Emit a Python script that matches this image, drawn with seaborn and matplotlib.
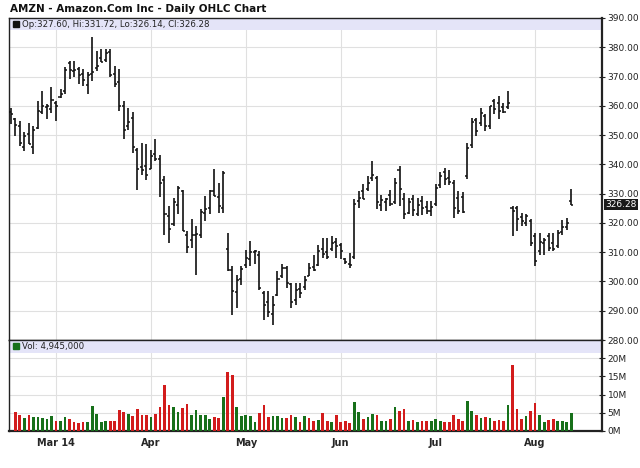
import numpy as np
import pandas as pd
import matplotlib
matplotlib.use('Agg')
import matplotlib.pyplot as plt
import seaborn as sns
from matplotlib.transforms import blended_transform_factory

# trading days shown on the chart (Feb 14 - Aug 13, 2014)
holidays = ['2014-02-17', '2014-04-18', '2014-05-26', '2014-07-04']
dates = pd.bdate_range('2014-02-14', '2014-08-13')
dates = dates[~dates.isin(pd.to_datetime(holidays))]

opens = [358.0, 355.5, 353.0, 346.0, 350.5, 346.0, 352.5, 358.0, 359.5, 359.0,
         361.0, 363.0, 365.0, 374.5, 372.0, 372.5, 371.0, 367.0, 371.0, 373.0,
         376.5, 375.5, 378.5, 371.0, 368.0, 360.0, 353.0, 356.0, 345.0, 339.0,
         339.5, 338.5, 343.5, 342.0, 334.5, 322.5, 319.5, 326.0, 331.0, 316.0,
         314.0, 316.0, 316.0, 323.5, 325.0, 331.0, 329.0, 325.0, 311.0, 304.0,
         296.5, 301.0, 305.5, 307.5, 310.0, 309.0, 296.0, 293.0, 289.0, 295.5,
         302.0, 304.5, 299.0, 293.5, 297.5, 298.0, 302.0, 305.0, 305.5, 311.0,
         310.0, 311.0, 313.5, 312.5, 307.5, 306.0, 308.5, 327.5, 331.0, 331.5,
         335.5, 335.5, 326.0, 327.0, 329.5, 327.0, 338.0, 328.0, 323.5, 328.0,
         323.0, 327.5, 325.5, 324.0, 326.5, 333.0, 337.5, 335.5, 333.5, 328.5,
         329.0, 336.0, 346.5, 355.0, 354.0, 356.5, 353.0, 361.5, 361.0, 359.5,
         359.5, 325.0, 325.0, 322.0, 320.0, 320.5, 315.5, 310.5, 313.0, 315.5,
         313.0, 312.0, 317.0, 318.5, 327.60]
highs = [359.4, 356.0, 354.8, 350.9, 354.3, 353.1, 361.7, 365.1, 360.5, 366.3,
         361.7, 365.7, 373.1, 375.4, 375.4, 373.1, 372.5, 371.4, 383.4, 378.8,
         379.4, 379.4, 379.4, 373.7, 372.5, 361.7, 359.4, 357.9, 345.7, 347.4,
         346.8, 344.8, 348.6, 343.1, 336.0, 325.7, 328.6, 332.6, 331.4, 317.2,
         321.2, 318.9, 324.6, 329.1, 331.4, 338.3, 333.7, 337.7, 316.6, 305.2,
         302.3, 305.2, 310.9, 313.7, 310.9, 310.3, 296.6, 296.6, 294.9, 303.5,
         305.8, 305.2, 299.5, 299.5, 299.5, 301.7, 306.3, 309.2, 312.6, 314.9,
         314.9, 315.4, 314.9, 313.2, 308.0, 309.8, 328.0, 330.9, 333.2, 336.0,
         341.1, 336.0, 329.7, 328.6, 331.4, 335.4, 339.4, 330.3, 328.6, 329.7,
         328.6, 329.1, 327.4, 327.4, 333.3, 337.4, 338.6, 338.1, 334.8, 330.9,
         330.6, 347.4, 356.0, 356.0, 359.4, 357.1, 360.0, 362.3, 363.4, 361.1,
         365.1, 325.7, 325.7, 323.4, 323.2, 321.2, 316.6, 316.6, 314.9, 316.6,
         316.4, 317.7, 320.9, 321.7, 331.72]
lows = [353.7, 349.7, 346.3, 344.5, 346.8, 343.4, 352.0, 357.1, 355.4, 357.7,
        354.8, 362.8, 364.0, 369.1, 369.7, 367.4, 366.8, 364.0, 368.5, 372.0,
        374.8, 374.8, 369.7, 366.3, 358.3, 348.8, 351.9, 344.0, 331.4, 336.3,
        334.6, 338.3, 341.1, 328.9, 316.0, 313.2, 318.9, 322.9, 317.2, 309.8,
        311.5, 302.2, 314.9, 320.6, 322.9, 329.1, 323.5, 323.5, 303.5, 288.6,
        290.9, 298.9, 304.6, 305.2, 305.8, 297.2, 286.9, 288.0, 285.2, 294.9,
        301.2, 297.8, 290.9, 292.1, 294.3, 297.2, 301.7, 303.5, 305.2, 308.0,
        307.5, 310.3, 308.0, 307.5, 305.8, 304.6, 307.5, 325.2, 328.0, 330.9,
        334.3, 324.6, 324.0, 324.0, 325.7, 326.3, 325.7, 321.2, 322.9, 322.5,
        322.3, 322.6, 322.9, 322.3, 325.7, 332.0, 332.9, 333.0, 321.7, 323.1,
        323.4, 334.9, 345.7, 349.7, 353.1, 351.4, 352.0, 357.1, 355.4, 357.7,
        358.8, 315.5, 317.2, 318.9, 318.9, 312.0, 305.2, 309.2, 309.2, 310.3,
        310.3, 311.5, 316.0, 317.7, 326.14]
closes = [357.2, 353.6, 347.4, 349.8, 347.0, 351.8, 358.3, 359.8, 360.1, 362.1,
          359.8, 363.9, 372.4, 372.2, 372.1, 370.5, 368.8, 370.6, 371.5, 373.7,
          375.0, 378.0, 370.5, 367.5, 360.0, 351.8, 354.5, 346.0, 338.5, 338.0,
          336.4, 343.0, 342.0, 333.6, 323.0, 317.8, 327.1, 331.8, 317.1, 311.7,
          315.9, 316.1, 323.7, 324.9, 330.9, 329.3, 325.8, 337.2, 303.8, 296.6,
          300.4, 304.1, 308.0, 310.0, 310.4, 297.9, 292.0, 289.6, 292.1, 301.0,
          304.5, 299.5, 293.0, 297.2, 296.0, 300.5, 304.6, 304.0, 310.5, 309.5,
          308.5, 313.0, 312.2, 310.3, 306.5, 305.5, 326.5, 328.5, 328.2, 333.5,
          336.5, 327.0, 327.8, 328.2, 326.5, 333.5, 331.5, 323.0, 327.0, 324.5,
          326.0, 325.0, 324.0, 325.5, 332.0, 336.0, 335.0, 334.0, 325.0, 324.0,
          323.6, 345.5, 354.5, 351.5, 357.5, 353.0, 359.8, 359.0, 358.2, 357.9,
          360.8, 324.0, 321.5, 320.5, 322.5, 313.0, 307.0, 313.5, 314.0, 311.5,
          311.0, 316.5, 318.5, 320.0, 326.28]
# volume in millions of shares (first day has no bar on the chart)
volume = [0.0, 5.1, 4.4, 3.7, 4.4, 3.9, 3.9, 3.7, 3.2, 4.1,
          2.8, 2.8, 3.9, 3.2, 2.4, 2.3, 2.5, 2.5, 6.9, 4.7,
          2.6, 2.7, 2.8, 2.7, 5.7, 5.2, 4.7, 4.2, 6.0, 4.4,
          4.4, 3.8, 4.7, 6.7, 12.7, 7.2, 6.7, 5.1, 6.3, 7.4,
          4.4, 5.7, 4.5, 4.4, 3.2, 3.9, 3.7, 9.4, 16.3, 15.3,
          6.7, 4.2, 4.5, 4.1, 2.6, 4.9, 7.2, 3.9, 4.1, 4.1,
          3.7, 3.5, 4.4, 3.9, 2.6, 4.1, 3.7, 2.7, 3.0, 5.0,
          2.8, 2.5, 4.4, 2.5, 2.7, 2.2, 7.9, 5.3, 3.4, 3.8,
          4.7, 4.4, 2.8, 2.7, 3.2, 6.7, 5.4, 6.0, 2.7, 2.9,
          2.4, 2.8, 2.7, 2.8, 3.2, 2.8, 2.4, 2.4, 4.4, 3.4,
          2.8, 8.3, 5.6, 4.5, 3.6, 3.9, 3.7, 2.7, 3.0, 2.8,
          7.1, 18.1, 6.0, 3.2, 4.1, 5.4, 7.6, 4.4, 2.6, 3.0,
          3.2, 2.8, 2.7, 2.4, 4.945]
# volume colour per day as seen on the chart: u = green, d = red
vol_dir = list('ddduduuuuu' 'duudddduuu' 'uudddduddd' 'dudddduudd'
               'uuuuuddudd' 'uuuuuddduu' 'uddududdud' 'dudddduudu'
               'uduududdud' 'udduuudddd' 'duudududdd' 'udddudduud'
               'duuuu')

RED = '#d21c1c'
GREEN = '#17701a'
BAND = '#e4e4f8'
GRID = '#e0e0e0'
INK = '#111111'

n = len(dates)
idx = np.arange(n)
month_pos = [int(np.where(dates.month == m)[0][0]) for m in [3, 4, 5, 6, 7, 8]]
month_labels = ['Mar 14', 'Apr', 'May', 'Jun', 'Jul', 'Aug']

sns.set_style('white')
plt.rcParams['font.family'] = ['DejaVu Sans']

fig = plt.figure(figsize=(6.4, 4.68), dpi=100)
ax = fig.add_axes([9 / 640, 1 - 340 / 468, 593 / 640, 322 / 468])
axv = fig.add_axes([9 / 640, 1 - 431 / 468, 593 / 640, 91 / 468])

# price panel - OHLC bars
ax.vlines(idx, lows, highs, color=INK, lw=1.2, zorder=3)
ax.hlines(opens, idx - 0.45, idx, color=INK, lw=1.1, zorder=3)
ax.hlines(closes, idx, idx + 0.45, color=INK, lw=1.1, zorder=3)

# volume panel (one category per trading day, so bars sit at 0..n-1)
vdf = pd.DataFrame({'day': idx, 'vol': volume, 'dir': vol_dir})
sns.barplot(data=vdf, x='day', y='vol', hue='dir', palette={'u': GREEN, 'd': RED},
            width=0.6, dodge=False, saturation=1, legend=False, ax=axv,
            linewidth=0, edgecolor='none', zorder=3)

for a in (ax, axv):
    a.set_xlim(-0.4, 130.8)
    a.set_xticks(month_pos)
    a.grid(True, color=GRID, lw=0.8)
    a.set_axisbelow(True)
    a.yaxis.tick_right()
    a.set_xlabel('')
    a.set_ylabel('')
    for side in ['left', 'right', 'top', 'bottom']:
        a.spines[side].set_visible(True)
        a.spines[side].set_color('#222222')
        a.spines[side].set_linewidth(1.0)
    a.spines['right'].set_linewidth(1.6)
    a.tick_params(axis='y', direction='inout', length=5, width=0.8,
                  labelsize=6.5, pad=1.5, colors='#222222')

ax.set_ylim(280, 390)
ax.set_yticks(np.arange(280, 391, 10))
ax.set_yticklabels([f'{v:.2f}' for v in np.arange(280, 391, 10)])
ax.tick_params(axis='x', length=0, labelbottom=False)

axv.set_ylim(0, 25)
axv.set_yticks([0, 5, 10, 15, 20])
axv.set_yticklabels(['0M', '5M', '10M', '15M', '20M'])
axv.set_xticklabels(month_labels, fontweight='bold', fontsize=7)
axv.tick_params(axis='x', direction='out', length=3, width=0.8, pad=2)
axv.spines['bottom'].set_linewidth(1.6)

# header bands with the readouts
ax.axhspan(390 - 12 / 2.92, 390, color=BAND, zorder=1, lw=0)
axv.axhspan(25 - 13 / 3.64, 25, color=BAND, zorder=1, lw=0)
ax.plot([0.0115], [0.980], marker='s', ms=4.5, color=INK,
        transform=ax.transAxes, clip_on=False, zorder=5)
ax.text(0.022, 0.980, 'Op:327.60, Hi:331.72, Lo:326.14, Cl:326.28',
        transform=ax.transAxes, va='center', ha='left', fontsize=6.2, color='#222222')
axv.plot([0.0115], [0.929], marker='s', ms=4.5, color=GREEN,
         transform=axv.transAxes, clip_on=False, zorder=5)
axv.text(0.022, 0.929, 'Vol: 4,945,000', transform=axv.transAxes,
         va='center', ha='left', fontsize=6.2, color='#222222')

# last-price marker on the right axis
trans = blended_transform_factory(ax.transAxes, ax.transData)
ax.text(1.006, closes[-1], f'{closes[-1]:.2f}', transform=trans, va='center',
        ha='left', fontsize=6.5, color='white',
        bbox=dict(facecolor='#1a1a1a', edgecolor='none', pad=0.8))

fig.text(10 / 640, 1 - 9 / 468, 'AMZN - Amazon.Com Inc - Daily OHLC Chart',
         ha='left', va='center', fontsize=7.5, fontweight='bold', color=INK)

fig.savefig('out.png', dpi=100)
